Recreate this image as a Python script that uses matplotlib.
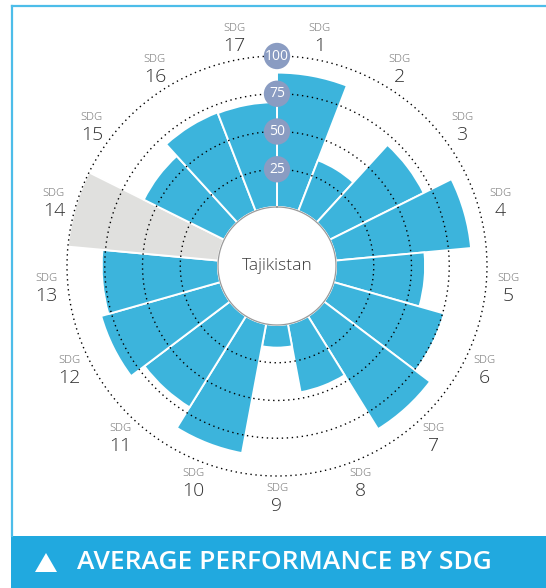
import numpy as np
import matplotlib.pyplot as plt
from matplotlib.patches import Rectangle, Polygon
from matplotlib.lines import Line2D

plt.rcParams['font.family'] = ['Open Sans', 'DejaVu Sans']

# data
sdg_labels = [str(i) for i in range(1, 18)]
scores = [89, 36, 69.5, 90, 59, 76, 88, 46, 15, 87, 71, 82, 77, np.nan, 59.5, 70, 69.5]
ring_values = [25, 50, 75, 100]
country = "Tajikistan"
title = "AVERAGE PERFORMANCE BY SDG"

BAR_COLOR = "#3cb4dc"
NODATA_COLOR = "#e0e0de"
RING_LABEL_COLOR = "#8a9cc2"
FRAME_COLOR = "#4dbde9"
BANNER_COLOR = "#21a9df"

# pixel geometry: centre (277, 266), 1.51 px per point, hole of 59 px
W, H = 546, 588
cx, cy = 277, 266
px_per_unit = 1.51
hole = 59 / px_per_unit
half = 250

fig = plt.figure(figsize=(W / 100, H / 100), dpi=100)
ax = fig.add_axes([(cx - half) / W, (H - cy - half) / H, 2 * half / W, 2 * half / H],
                  projection='polar')
ax.set_theta_zero_location('N')
ax.set_theta_direction(-1)
ax.set_ylim(0, half / px_per_unit)
ax.axis('off')

n = len(scores)
width = 2 * np.pi / n
theta = np.arange(n) * width + width / 2

heights = [100 if np.isnan(s) else s for s in scores]
colors = [NODATA_COLOR if np.isnan(s) else BAR_COLOR for s in scores]
ax.bar(theta, heights, width=width, bottom=hole, color=colors,
       edgecolor='white', linewidth=1.4, zorder=2)

# dotted rings
tt = np.linspace(0, 2 * np.pi, 400)
for v in ring_values:
    ax.plot(tt, np.full_like(tt, hole + v), color='black', lw=1.0,
            linestyle=(0, (1, 2.6)), zorder=3)

# inner hole
ax.fill(tt, np.full_like(tt, hole), color='white', zorder=4)
ax.plot(tt, np.full_like(tt, hole), color='#9a9a9a', lw=0.9, zorder=4)
ax.text(0, 0, country, ha='center', va='center', fontsize=12.5, color='#3a3a3a',
        fontweight='light', zorder=5)

# ring value badges
ax.scatter(np.zeros(len(ring_values)), [hole + v for v in ring_values], s=360,
           color=RING_LABEL_COLOR, edgecolor='none', zorder=6)
for v in ring_values:
    ax.text(0, hole + v, str(v), ha='center', va='center', fontsize=10,
            color='white', zorder=7)

# SDG labels
label_r = 232 / px_per_unit
for t, lab in zip(theta, sdg_labels):
    ax.annotate("SDG", (t, label_r), xytext=(0, 6.5), textcoords='offset points',
                ha='center', va='center', fontsize=8, color='#666666', fontweight='light')
    ax.annotate(lab, (t, label_r), xytext=(0, -6), textcoords='offset points',
                ha='center', va='center', fontsize=14, color='#333333', fontweight='light')

# frame and banner
fig.add_artist(Line2D([12 / W, 1], [1 - 5.5 / H, 1 - 5.5 / H], color=FRAME_COLOR, lw=1.6))
fig.add_artist(Line2D([12 / W, 12 / W], [1 - 5.5 / H, 1 - 536 / H], color=FRAME_COLOR, lw=1.6))
fig.add_artist(Rectangle((11 / W, 0), 1 - 11 / W, (H - 536) / H,
                         transform=fig.transFigure, color=BANNER_COLOR, lw=0))
fig.add_artist(Polygon([[35 / W, 1 - 572 / H], [57 / W, 1 - 572 / H], [46 / W, 1 - 553 / H]],
                       closed=True, transform=fig.transFigure, color='white', lw=0))
fig.text(77 / W, 1 - 562.5 / H, title, ha='left', va='center', fontsize=19,
         fontweight='semibold', color='white')

fig.savefig('out.png', dpi=100)
